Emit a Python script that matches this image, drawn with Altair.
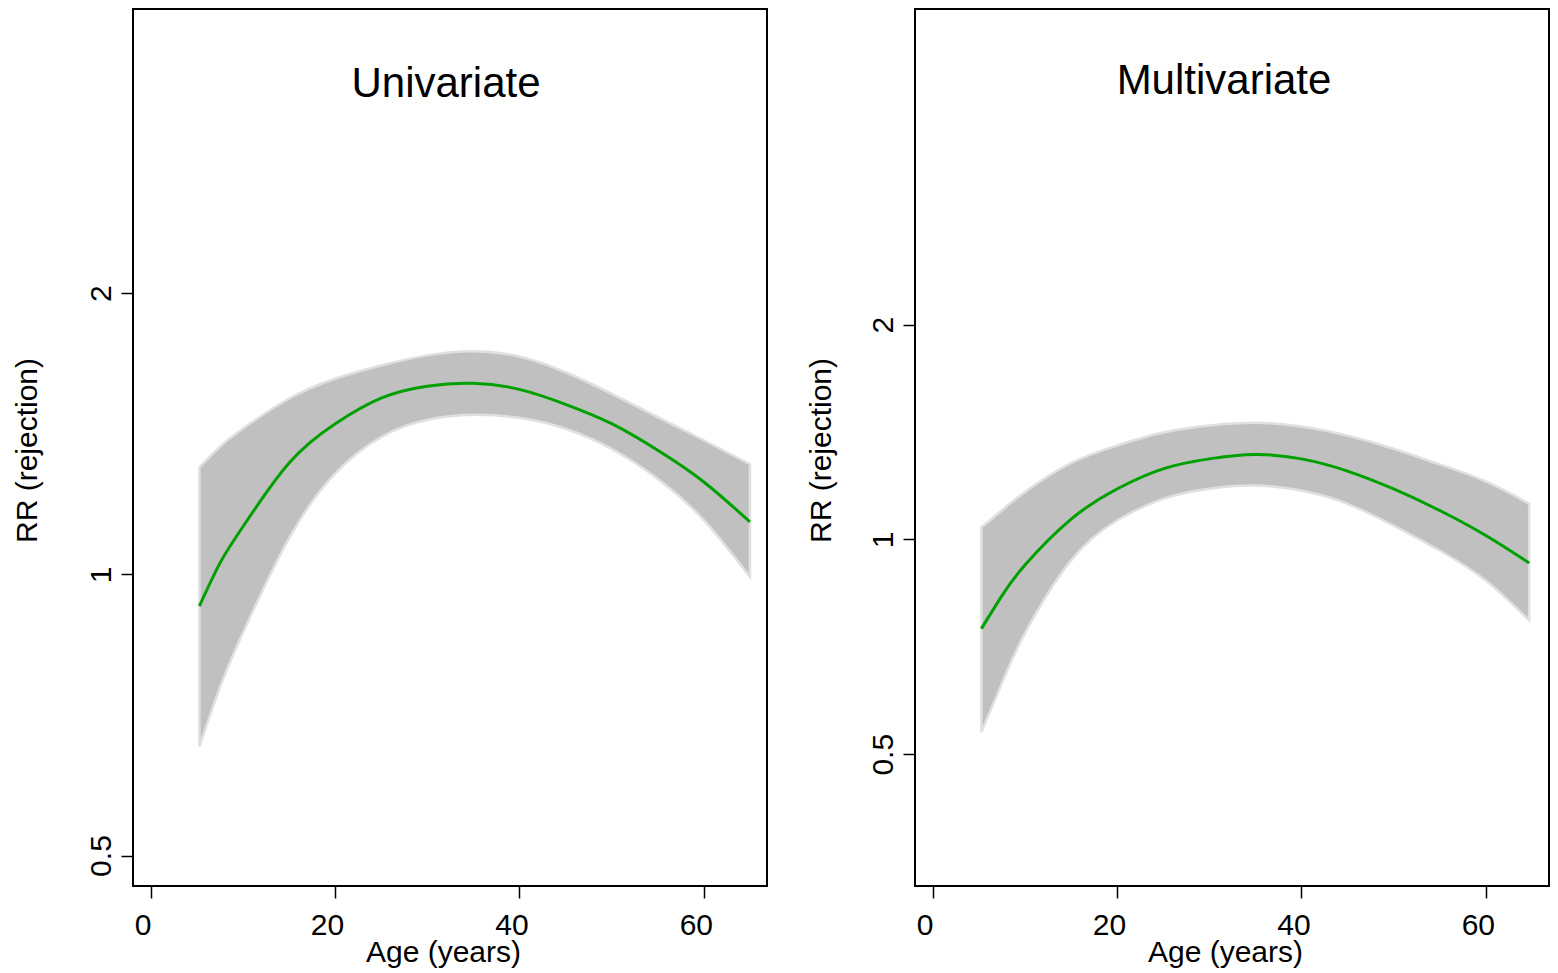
import altair as alt
import pandas as pd

# ---- data ----
age_uni = [5.3, 7.5, 10, 15, 20, 25, 30, 35, 40, 45, 50, 55, 60, 65]
rr_uni = [0.925, 1.027, 1.124, 1.315, 1.449, 1.544, 1.590, 1.602, 1.578, 1.521, 1.450, 1.358, 1.256, 1.138]
lo_uni = [0.654, 0.756, 0.865, 1.092, 1.282, 1.403, 1.464, 1.482, 1.471, 1.432, 1.363, 1.266, 1.143, 0.994]
hi_uni = [1.303, 1.369, 1.432, 1.542, 1.620, 1.674, 1.716, 1.734, 1.711, 1.646, 1.561, 1.474, 1.392, 1.312]

age_multi = [5.3, 7.5, 10, 15, 20, 25, 30, 35, 40, 45, 50, 55, 60, 64.7]
rr_multi = [0.750, 0.833, 0.920, 1.067, 1.177, 1.256, 1.297, 1.315, 1.297, 1.247, 1.177, 1.098, 1.013, 0.927]
lo_multi = [0.537, 0.628, 0.738, 0.934, 1.063, 1.140, 1.178, 1.190, 1.171, 1.122, 1.046, 0.965, 0.876, 0.770]
hi_multi = [1.040, 1.098, 1.165, 1.279, 1.354, 1.412, 1.444, 1.457, 1.440, 1.398, 1.340, 1.274, 1.206, 1.122]

titles = ["Univariate", "Multivariate"]
x_title = "Age (years)"
y_title = "RR (rejection)"
x_ticks = [0, 20, 40, 60]
y_ticks = [0.5, 1, 2]

FONT = "Liberation Sans"
H = 877


def panel(age, rr, lo, hi, title, ydom, ytx, title_y, title_x, w, xtx):
    df = pd.DataFrame({"age": age, "rr": rr, "lo": lo, "hi": hi})
    x = alt.X("age:Q", scale=alt.Scale(domain=[-1.9, 66.85], nice=False, zero=False),
              axis=alt.Axis(values=x_ticks, title=x_title, titleX=xtx, titleY=75,
                            titleBaseline="alphabetic", titleAlign="center", labelOffset=-8))
    yscale = alt.Scale(type="log", domain=ydom, nice=False)
    yaxis = alt.Axis(values=y_ticks, title=y_title, titleX=ytx, titleY=441,
                     titleAngle=270, titleBaseline="alphabetic", titleAlign="center")
    band = alt.Chart(df).mark_area(color="#c0c0c0", stroke="#e0e0e0", strokeWidth=2.5,
                                   opacity=1, interpolate="natural").encode(
        x=x, y=alt.Y("lo:Q", scale=yscale, axis=yaxis), y2="hi:Q")
    line = alt.Chart(df).mark_line(color="#00a000", strokeWidth=3,
                                   interpolate="natural").encode(
        x="age:Q", y=alt.Y("rr:Q", scale=yscale))
    ttl = alt.Chart(pd.DataFrame({"t": [title]})).mark_text(
        font=FONT, fontSize=42, color="black", align="center", baseline="alphabetic"
    ).encode(text="t:N", x=alt.value(title_x), y=alt.value(title_y))
    return alt.layer(band, line, ttl).properties(width=w, height=H)


left = panel(age_uni, rr_uni, lo_uni, hi_uni, titles[0], [0.4638, 4.031], -97, 88, 313, 634, 310)
right = panel(age_multi, rr_multi, lo_multi, hi_multi, titles[1], [0.3268, 5.54], -85, 85, 309, 634, 310)

chart = alt.hconcat(left, right, spacing=37).properties(
    padding={"left": 3, "top": 0, "right": 0, "bottom": 0}
).configure_view(
    stroke="black", strokeWidth=2
).configure_axis(
    domain=False, grid=False, ticks=True, tickColor="black", tickWidth=1.5, tickSize=12,
    labelFont=FONT, labelFontSize=30, labelColor="black",
    titleFont=FONT, titleFontSize=30, titleColor="black", titleFontWeight="normal"
).configure_axisX(
    labelPadding=12
).configure_axisY(
    labelAngle=270, labelAlign="center", labelBaseline="bottom", labelPadding=5
)

chart.save("out.html", embed_options={"renderer": "svg", "actions": False})
